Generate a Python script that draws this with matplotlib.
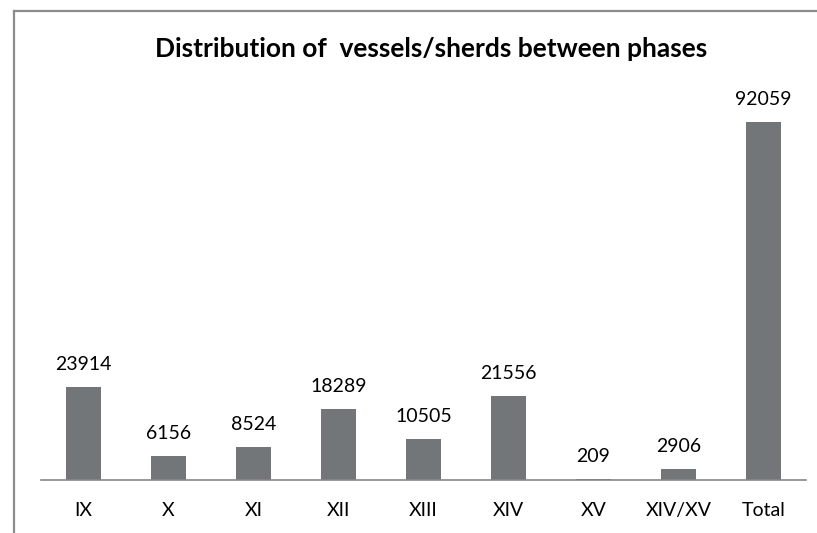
import matplotlib.pyplot as plt
from matplotlib.lines import Line2D

phases = ["IX", "X", "XI", "XII", "XIII", "XIV", "XV", "XIV/XV", "Total"]
counts = [23914, 6156, 8524, 18289, 10505, 21556, 209, 2906, 92059]

plt.rcParams["font.family"] = ["Lato", "DejaVu Sans"]

fig = plt.figure(figsize=(8.17, 5.33), dpi=100)

# chart-area frame: only the left and top edges fall inside the image
fx, fy = 14 / 817, 1 - 10.5 / 533
fig.lines.append(Line2D([fx, fx], [0, fy], transform=fig.transFigure,
                        color="#8c8c8c", linewidth=1.6))
fig.lines.append(Line2D([fx, 1], [fy, fy], transform=fig.transFigure,
                        color="#8c8c8c", linewidth=1.6))

ax = fig.add_axes([41 / 817, 53 / 533, 765 / 817, 388.6 / 533])
x = range(len(phases))
bars = ax.bar(x, counts, width=0.42, color="#737679")

for i, v in enumerate(counts):
    ax.annotate(str(v), (i, v), xytext=(0, 10), textcoords="offset points",
                ha="center", va="bottom", fontsize=14, color="black")

ax.set_xlim(-0.5, len(phases) - 0.5)
ax.set_ylim(0, 100000)
ax.set_xticks(list(x))
ax.set_xticklabels(phases, fontsize=14)
ax.tick_params(axis="x", length=0, pad=16)
ax.set_yticks([])
for side in ["top", "right", "left"]:
    ax.spines[side].set_visible(False)
ax.spines["bottom"].set_color("#868686")
ax.spines["bottom"].set_linewidth(1.2)

fig.text(431 / 817, 1 - 57 / 533, "Distribution of  vessels/sherds between phases",
         ha="center", va="baseline", fontsize=19, fontweight="bold")

plt.savefig("out.png", dpi=100)
